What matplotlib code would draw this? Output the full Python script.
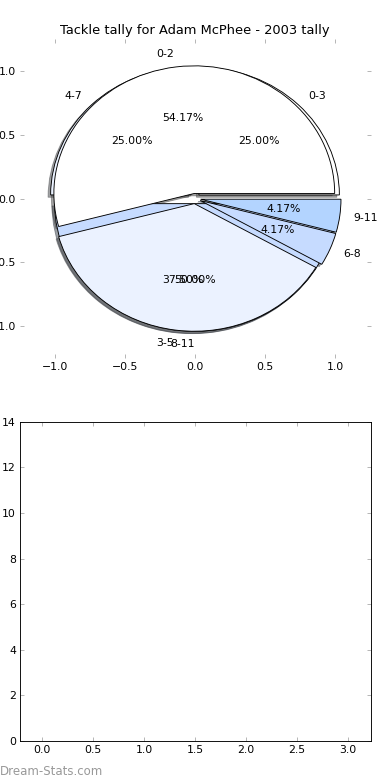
import matplotlib
matplotlib.use("Agg")
import matplotlib.pyplot as plt

plt.rcParams['font.family'] = ['DejaVu Sans']
plt.rcParams['font.size'] = 12

title = "Tackle tally for Adam McPhee - 2003 tally"

# first pie (drawn underneath): percentages
labels_a = ["0-3", "4-7", "8-11"]
values_a = [25.00, 25.00, 50.00]

# second pie (drawn on top): tackle counts giving 54.17 / 37.50 / 4.17 / 4.17 %
labels_b = ["0-2", "3-5", "6-8", "9-11"]
values_b = [13, 9, 1, 1]

slice_colors = ["#ffffff", "#ebf2ff", "#c6dbff", "#b3d4ff"]
explode_amt = 0.04

pie_ticks = [-1.0, -0.5, 0.0, 0.5, 1.0]
bar_xticks = [0.0, 0.5, 1.0, 1.5, 2.0, 2.5, 3.0]
bar_yticks = [0, 2, 4, 6, 8, 10, 12, 14]

fig = plt.figure(figsize=(6, 12), dpi=65)
fig.patch.set_facecolor("white")
fig.subplots_adjust(left=0.05, right=0.95, bottom=0.05, top=0.95, hspace=0.2)

ax1 = fig.add_subplot(211)
wp = dict(edgecolor="black", linewidth=1.0)
for vals, labs in ((values_a, labels_a), (values_b, labels_b)):
    wedges, texts, autotexts = ax1.pie(
        vals, labels=labs, colors=slice_colors[:len(vals)],
        explode=[explode_amt] * len(vals), autopct="%1.2f%%",
        shadow=True, startangle=0, wedgeprops=wp,
        textprops=dict(fontsize=12))
    for t in texts:
        x, _ = t.get_position()
        t.set_horizontalalignment("left" if x > 1e-4 else "right")
ax1.set_aspect("auto")
ax1.set_frame_on(False)
ax1.set_xlim(-1.25, 1.25)
ax1.set_ylim(-1.25, 1.25)
ax1.set_xticks(pie_ticks)
ax1.set_yticks(pie_ticks)
ax1.set_title(title, fontsize=14.4)

ax2 = fig.add_subplot(212)
ax2.set_xlim(-0.225, 3.225)
ax2.set_ylim(0, 14)
ax2.set_xticks(bar_xticks)
ax2.set_yticks(bar_yticks)
for sp in ax2.spines.values():
    sp.set_color("black")
    sp.set_linewidth(1.0)

for ax in (ax1, ax2):
    ax.tick_params(direction="in", length=4, width=1, color="#b0b0b0",
                   labelcolor="black", labelsize=12, pad=4,
                   top=True, right=True, bottom=True, left=True)

fig.text(0.0, 0.0065, "Dream-Stats.com", fontsize=13, color="#999999",
         ha="left", va="baseline")

fig.savefig("out.png", dpi=65, facecolor="white")
